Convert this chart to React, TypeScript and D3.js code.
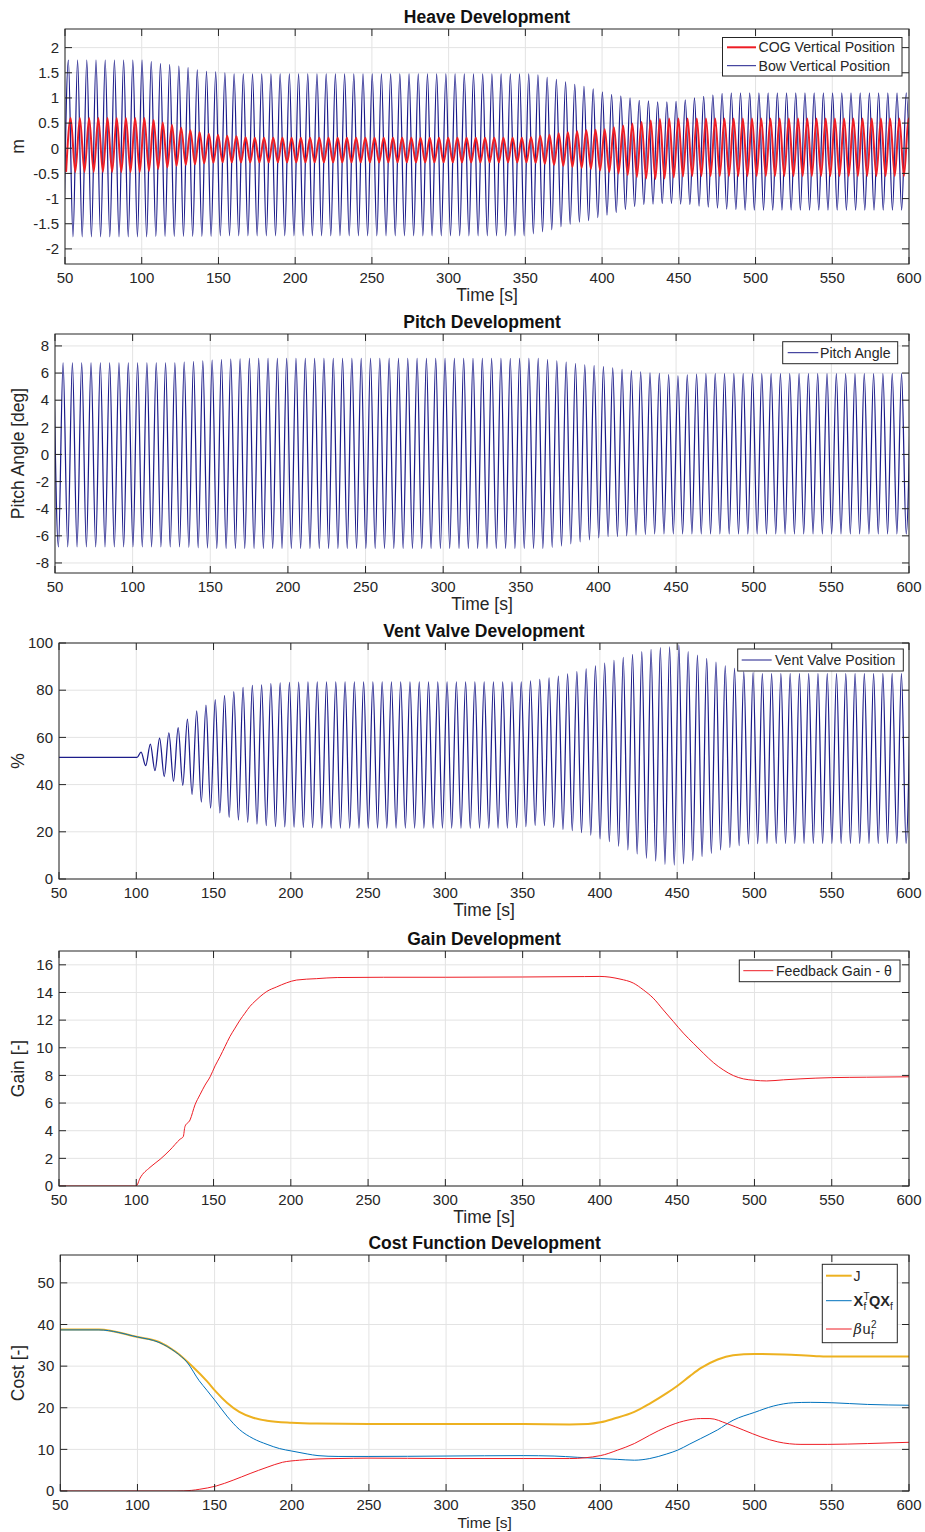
import React from 'react';
import * as d3 from 'd3';

// ---------- shared axis values ----------
const TIME_TICKS = [50, 100, 150, 200, 250, 300, 350, 400, 450, 500, 550, 600];
const HEAVE_TICKS = [-2, -1.5, -1, -0.5, 0, 0.5, 1, 1.5, 2];
const PITCH_TICKS = [-8, -6, -4, -2, 0, 2, 4, 6, 8];
const VENT_TICKS = [0, 20, 40, 60, 80, 100];
const GAIN_TICKS = [0, 2, 4, 6, 8, 10, 12, 14, 16];
const COST_TICKS = [0, 10, 20, 30, 40, 50];

// Oscillation: one cycle every 6 s, extrema every half cycle.
const HALF_PERIOD = 3;

// ---------- heave: bow vertical position (m), extrema per cycle ----------
const BOW_FIRST_TROUGH_T = 49.2;
const BOW_TROUGHS = [
  -1.76, -1.76, -1.76, -1.76, -1.76, -1.76, -1.76, -1.76, -1.76, -1.76,
  -1.75, -1.75, -1.75, -1.75, -1.75, -1.75, -1.75, -1.74, -1.74, -1.74,
  -1.74, -1.74, -1.74, -1.74, -1.74, -1.74, -1.74, -1.74, -1.74, -1.74,
  -1.74, -1.74, -1.74, -1.74, -1.74, -1.74, -1.74, -1.74, -1.74, -1.74,
  -1.74, -1.74, -1.74, -1.74, -1.74, -1.74, -1.74, -1.74, -1.74, -1.74,
  -1.74, -1.7, -1.66, -1.62, -1.56, -1.51, -1.47, -1.44, -1.38, -1.33,
  -1.28, -1.22, -1.16, -1.12, -1.11, -1.1, -1.1, -1.11, -1.12, -1.15,
  -1.17, -1.19, -1.21, -1.22, -1.23, -1.23, -1.23, -1.23, -1.23, -1.23,
  -1.23, -1.23, -1.23, -1.23, -1.23, -1.23, -1.23, -1.23, -1.23, -1.23,
  -1.23, -1.23, -1.23,
];
const BOW_PEAKS = [
  1.75, 1.75, 1.75, 1.75, 1.75, 1.75, 1.75, 1.75, 1.75, 1.72,
  1.68, 1.66, 1.63, 1.6, 1.56, 1.53, 1.52, 1.5, 1.48, 1.48,
  1.48, 1.48, 1.48, 1.48, 1.48, 1.48, 1.48, 1.48, 1.48, 1.48,
  1.48, 1.48, 1.48, 1.48, 1.48, 1.48, 1.48, 1.48, 1.48, 1.48,
  1.48, 1.48, 1.48, 1.48, 1.48, 1.48, 1.48, 1.48, 1.48, 1.48,
  1.48, 1.46, 1.41, 1.37, 1.32, 1.27, 1.23, 1.18, 1.12, 1.07,
  1.04, 1.0, 0.95, 0.94, 0.92, 0.92, 0.93, 0.96, 1.0, 1.03,
  1.06, 1.09, 1.1, 1.1, 1.1, 1.1, 1.1, 1.1, 1.1, 1.1,
  1.1, 1.1, 1.1, 1.1, 1.1, 1.1, 1.1, 1.1, 1.1, 1.1,
  1.1, 1.1,
];

// ---------- heave: COG vertical position (m) ----------
const COG_FIRST_TROUGH_T = 50.7;
const COG_TROUGHS = [
  -0.47, -0.47, -0.47, -0.47, -0.47, -0.47, -0.47, -0.47, -0.47, -0.45,
  -0.41, -0.38, -0.35, -0.33, -0.32, -0.3, -0.29, -0.28, -0.28, -0.28,
  -0.28, -0.28, -0.28, -0.28, -0.28, -0.28, -0.28, -0.28, -0.28, -0.28,
  -0.28, -0.28, -0.28, -0.28, -0.28, -0.28, -0.28, -0.28, -0.28, -0.28,
  -0.28, -0.28, -0.28, -0.28, -0.28, -0.28, -0.28, -0.28, -0.28, -0.28,
  -0.28, -0.29, -0.31, -0.33, -0.35, -0.37, -0.39, -0.41, -0.44, -0.47,
  -0.5, -0.53, -0.57, -0.6, -0.61, -0.6, -0.58, -0.56, -0.55, -0.55,
  -0.55, -0.55, -0.55, -0.55, -0.55, -0.55, -0.55, -0.55, -0.55, -0.55,
  -0.55, -0.55, -0.55, -0.55, -0.55, -0.55, -0.55, -0.55, -0.55, -0.55,
  -0.55, -0.55, -0.55,
];
const COG_PEAKS = [
  0.6, 0.6, 0.6, 0.6, 0.6, 0.6, 0.6, 0.6, 0.6, 0.56,
  0.51, 0.46, 0.41, 0.36, 0.32, 0.29, 0.27, 0.25, 0.24, 0.22,
  0.21, 0.21, 0.21, 0.21, 0.21, 0.21, 0.21, 0.21, 0.21, 0.21,
  0.21, 0.21, 0.21, 0.21, 0.21, 0.21, 0.21, 0.21, 0.21, 0.21,
  0.21, 0.21, 0.21, 0.21, 0.21, 0.21, 0.21, 0.21, 0.21, 0.21,
  0.22, 0.25, 0.27, 0.3, 0.32, 0.34, 0.36, 0.37, 0.38, 0.42,
  0.45, 0.49, 0.52, 0.55, 0.58, 0.59, 0.59, 0.59, 0.59, 0.59,
  0.59, 0.59, 0.59, 0.59, 0.59, 0.59, 0.59, 0.59, 0.59, 0.59,
  0.59, 0.59, 0.59, 0.59, 0.59, 0.59, 0.59, 0.59, 0.59, 0.59,
  0.59, 0.59,
];

// ---------- pitch angle (deg) ----------
const PITCH_FIRST_PEAK_T = 49.2;
const PITCH_PEAKS = [
  6.75, 6.75, 6.75, 6.75, 6.75, 6.75, 6.75, 6.75, 6.75, 6.75,
  6.75, 6.75, 6.75, 6.75, 6.8, 6.85, 6.9, 6.95, 7.0, 7.03,
  7.05, 7.08, 7.08, 7.08, 7.08, 7.08, 7.08, 7.08, 7.08, 7.08,
  7.08, 7.08, 7.08, 7.08, 7.08, 7.08, 7.08, 7.08, 7.08, 7.08,
  7.08, 7.08, 7.08, 7.08, 7.08, 7.08, 7.08, 7.08, 7.08, 7.08,
  7.08, 7.08, 7.08, 7.0, 6.9, 6.8, 6.7, 6.6, 6.55, 6.47,
  6.38, 6.28, 6.18, 6.08, 6.01, 5.98, 5.89, 5.8, 5.86, 5.93,
  5.96, 5.96, 5.96, 5.96, 5.96, 5.96, 5.96, 5.96, 5.96, 5.96,
  5.96, 5.96, 5.96, 5.96, 5.96, 5.96, 5.96, 5.96, 5.96, 5.96,
  5.96, 5.96, 5.96,
];
const PITCH_TROUGHS = [
  -6.82, -6.82, -6.82, -6.82, -6.82, -6.82, -6.82, -6.82, -6.82, -6.82,
  -6.82, -6.82, -6.82, -6.82, -6.85, -6.88, -6.9, -6.93, -6.93, -6.93,
  -6.93, -6.93, -6.93, -6.93, -6.93, -6.93, -6.93, -6.93, -6.93, -6.93,
  -6.93, -6.93, -6.93, -6.93, -6.93, -6.93, -6.93, -6.93, -6.93, -6.93,
  -6.93, -6.93, -6.93, -6.93, -6.93, -6.93, -6.93, -6.93, -6.93, -6.93,
  -6.93, -6.93, -6.93, -6.85, -6.75, -6.6, -6.45, -6.3, -6.15, -6.05,
  -6.06, -6.0, -5.95, -5.9, -5.86, -5.86, -5.86, -5.86, -5.86, -5.86,
  -5.86, -5.86, -5.86, -5.86, -5.86, -5.86, -5.86, -5.86, -5.86, -5.86,
  -5.86, -5.86, -5.86, -5.86, -5.86, -5.86, -5.86, -5.86, -5.86, -5.86,
  -5.86, -5.86,
];

// ---------- vent valve position (%) ----------
const VENT_IDLE: [number, number][] = [[50, 51.5], [100.5, 51.5]];
const VENT_FIRST_PEAK_T = 103.1;
const VENT_PEAKS = [
  53.8, 57.2, 59.7, 61.9, 64.1, 67.7, 71.2, 73.7, 76.0, 77.8,
  79.4, 81.2, 82.0, 82.3, 82.8, 83.1, 83.3, 83.4, 83.5, 83.5,
  83.5, 83.5, 83.5, 83.5, 83.5, 83.5, 83.5, 83.5, 83.5, 83.5,
  83.5, 83.5, 83.5, 83.5, 83.5, 83.5, 83.5, 83.5, 83.5, 83.5,
  83.5, 83.5, 84.0, 84.6, 85.2, 86.0, 86.9, 87.9, 89.0, 90.3,
  91.5, 92.6, 93.9, 95.2, 96.3, 97.3, 98.0, 98.4, 99.2, 96.3,
  94.9, 93.5, 91.9, 90.3, 89.3, 87.8, 87.4, 87.0, 87.0, 87.0,
  87.0, 87.0, 87.0, 87.0, 87.0, 87.0, 87.0, 87.0, 87.0, 87.0,
  87.0, 87.0, 87.0, 87.0,
];
const VENT_TROUGHS = [
  48.0, 45.9, 43.4, 41.4, 39.7, 35.9, 32.6, 30.0, 28.0, 26.1,
  25.0, 24.0, 23.3, 22.6, 22.2, 22.1, 22.0, 21.9, 21.8, 21.6,
  21.6, 21.6, 21.6, 21.6, 21.6, 21.6, 21.6, 21.6, 21.6, 21.6,
  21.6, 21.6, 21.6, 21.6, 21.6, 21.6, 21.6, 21.6, 21.6, 21.6,
  21.8, 22.2, 22.7, 22.6, 21.9, 21.0, 20.5, 19.6, 18.6, 17.0,
  15.8, 13.9, 12.3, 10.6, 8.8, 7.6, 6.2, 5.9, 6.4, 7.8,
  9.5, 10.9, 12.3, 13.4, 14.1, 14.8, 15.0, 15.1, 15.1, 15.1,
  15.1, 15.1, 15.1, 15.1, 15.1, 15.1, 15.1, 15.1, 15.1, 15.1,
  15.1, 15.1, 15.1,
];

// ---------- feedback gain (time s, gain) ----------
const GAIN: [number, number][] = [
  [50, 0], [100, 0], [102.4, 0.56], [108.9, 1.35], [115.4, 1.93], [121.8, 2.6],
  [128.3, 3.38], [130.4, 3.57], [131.5, 4.3], [134.8, 4.78], [138, 5.87], [141.2, 6.6],
  [144.5, 7.3], [147.8, 7.9], [151, 8.69], [154.2, 9.36], [157.4, 10.09], [160.6, 10.81],
  [163.9, 11.42], [167.1, 12.0], [170.3, 12.5], [173.6, 13.0], [176.8, 13.36], [180.1, 13.7],
  [184.4, 14.07], [190.8, 14.4], [197.3, 14.7], [203.8, 14.9], [216.7, 15.0], [230, 15.08],
  [260, 15.1], [300, 15.1], [350, 15.12], [390, 15.15], [400, 15.16], [413, 14.97],
  [421.6, 14.68], [428.1, 14.19], [434.5, 13.59], [441, 12.74], [447.5, 11.9], [454, 11.06],
  [460.4, 10.33], [466.9, 9.61], [473.4, 8.93], [479.8, 8.4], [486.3, 7.99], [492.8, 7.75],
  [499.9, 7.65], [507.9, 7.6], [518.7, 7.68], [529.5, 7.75], [550, 7.84], [572.6, 7.87],
  [600, 7.9],
];

// ---------- cost function terms (time s, cost) ----------
const COST_J: [number, number][] = [
  [50, 38.8], [75, 38.8], [100, 37.0], [114, 35.8], [125, 33.4], [136, 29.8],
  [145, 26.4], [151, 23.8], [158, 21.2], [166, 19.0], [175, 17.6], [184, 16.9],
  [200, 16.4], [216, 16.2], [250, 16.1], [300, 16.1], [350, 16.1], [380, 16.0],
  [392, 16.1], [400, 16.5], [409, 17.4], [422, 19.0], [432, 21.0], [443, 23.5],
  [450, 25.3], [458, 27.6], [465, 29.5], [476, 31.6], [486, 32.6], [500, 32.9],
  [519, 32.8], [540, 32.4], [550, 32.3], [600, 32.3],
];
const COST_XQX: [number, number][] = [
  [50, 38.7], [75, 38.7], [100, 37.0], [114, 35.7], [125, 33.3], [132, 31.0],
  [140, 26.5], [145, 24.2], [151, 21.4], [158, 18.0], [166, 14.8], [175, 12.6],
  [184, 11.2], [192, 10.2], [200, 9.6], [210, 8.9], [217, 8.5], [230, 8.3],
  [250, 8.3], [300, 8.4], [350, 8.5], [370, 8.4], [385, 8.1], [400, 7.8],
  [411, 7.6], [422, 7.4], [432, 7.8], [443, 8.9], [450, 9.8], [458, 11.3],
  [465, 12.6], [476, 14.7], [486, 17.0], [500, 18.9], [512, 20.4], [525, 21.2],
  [536, 21.3], [550, 21.2], [573, 20.8], [600, 20.6],
];
const COST_U: [number, number][] = [
  [50, 0], [125, 0], [135, 0.15], [140, 0.4], [151, 1.2], [162, 2.6],
  [173, 4.2], [184, 5.7], [194, 6.9], [205, 7.4], [217, 7.7], [230, 7.8],
  [250, 7.9], [300, 7.8], [350, 7.8], [380, 7.8], [400, 8.5], [411, 9.8],
  [422, 11.4], [432, 13.4], [443, 15.4], [454, 16.8], [465, 17.4], [471, 17.4],
  [482, 16.2], [493, 14.6], [504, 13.0], [515, 11.8], [530, 11.2], [547, 11.2],
  [573, 11.4], [600, 11.7],
];

// ---------- styling ----------
const FONT = "'Liberation Sans', Arial, Helvetica, sans-serif";
const AXIS = '#262626';
const GRID = '#e3e3e3';
const NAVY = '#1c1c8a';
const RED = '#ee1d25';
const ORANGE = '#edb120';
const BLUE = '#0072bd';
const TICK_FONT = 15;
const LABEL_FONT = 17.5;
const TITLE_FONT = 17.5;
const LEGEND_FONT = 14.1;

type Pt = [number, number];

// Interleave two extrema lists into a time series, alternating every half cycle.
function alternate(t0: number, first: number[], second: number[]): Pt[] {
  const pts: Pt[] = [];
  const n = Math.max(first.length, second.length);
  for (let i = 0; i < n; i++) {
    if (i < first.length) pts.push([t0 + 2 * i * HALF_PERIOD, first[i]]);
    if (i < second.length) pts.push([t0 + (2 * i + 1) * HALF_PERIOD, second[i]]);
  }
  return pts;
}

interface Series { points: Pt[]; color: string; width: number }
interface LegendItem { label: React.ReactNode; color: string; width: number; y: number }
interface PanelCfg {
  id: string;
  left: number; right: number; top: number; bottom: number;
  yDomain: [number, number];
  yTicks: number[];
  title: string;
  xlabel: string;
  xlabelSize: number;
  ylabel: string;
  series: Series[];
  legend: { x: number; y: number; w: number; h: number; lineX0: number; lineX1: number; textX: number; items: LegendItem[] };
}

function Panel({ cfg }: { cfg: PanelCfg }) {
  const x = d3.scaleLinear().domain([50, 600]).range([cfg.left, cfg.right]);
  const y = d3.scaleLinear().domain(cfg.yDomain).range([cfg.bottom, cfg.top]);
  const line = d3
    .line<Pt>()
    .x((d) => x(d[0]))
    .y((d) => y(d[1]))
    .curve(d3.curveMonotoneX);
  const tick = 7;
  const midX = (cfg.left + cfg.right) / 2;
  const midY = (cfg.top + cfg.bottom) / 2;
  const lg = cfg.legend;
  return (
    <g>
      <defs>
        <clipPath id={`clip-${cfg.id}`}>
          <rect x={cfg.left} y={cfg.top} width={cfg.right - cfg.left} height={cfg.bottom - cfg.top} />
        </clipPath>
      </defs>
      <rect x={cfg.left} y={cfg.top} width={cfg.right - cfg.left} height={cfg.bottom - cfg.top} fill="#fff" />
      {/* grid */}
      {TIME_TICKS.map((t) => (
        <line key={`gx${t}`} x1={x(t)} x2={x(t)} y1={cfg.top} y2={cfg.bottom} stroke={GRID} strokeWidth={1} />
      ))}
      {cfg.yTicks.map((v) => (
        <line key={`gy${v}`} x1={cfg.left} x2={cfg.right} y1={y(v)} y2={y(v)} stroke={GRID} strokeWidth={1} />
      ))}
      {/* data */}
      <g clipPath={`url(#clip-${cfg.id})`}>
        {cfg.series.map((s, i) => (
          <path key={i} d={line(s.points) || ''} fill="none" stroke={s.color} strokeWidth={s.width} strokeLinejoin="round" />
        ))}
      </g>
      {/* frame and ticks */}
      <rect x={cfg.left} y={cfg.top} width={cfg.right - cfg.left} height={cfg.bottom - cfg.top} fill="none" stroke={AXIS} strokeWidth={1} />
      {TIME_TICKS.map((t) => (
        <g key={`tx${t}`}>
          <line x1={x(t)} x2={x(t)} y1={cfg.bottom} y2={cfg.bottom - tick} stroke={AXIS} />
          <line x1={x(t)} x2={x(t)} y1={cfg.top} y2={cfg.top + tick} stroke={AXIS} />
          <text x={x(t)} y={cfg.bottom + 18.5} textAnchor="middle" fontSize={TICK_FONT} fill={AXIS} fontFamily={FONT}>
            {t}
          </text>
        </g>
      ))}
      {cfg.yTicks.map((v) => (
        <g key={`ty${v}`}>
          <line x1={cfg.left} x2={cfg.left + tick} y1={y(v)} y2={y(v)} stroke={AXIS} />
          <line x1={cfg.right} x2={cfg.right - tick} y1={y(v)} y2={y(v)} stroke={AXIS} />
          <text x={cfg.left - 6} y={y(v)} dy="0.35em" textAnchor="end" fontSize={TICK_FONT} fill={AXIS} fontFamily={FONT}>
            {String(v)}
          </text>
        </g>
      ))}
      {/* labels */}
      <text x={midX} y={cfg.top - 6} textAnchor="middle" fontSize={TITLE_FONT} fontWeight="bold" fill="#111" fontFamily={FONT}>
        {cfg.title}
      </text>
      <text x={midX} y={cfg.bottom + 37} textAnchor="middle" fontSize={cfg.xlabelSize} fill={AXIS} fontFamily={FONT}>
        {cfg.xlabel}
      </text>
      <text
        transform={`translate(24,${midY}) rotate(-90)`}
        textAnchor="middle"
        fontSize={LABEL_FONT}
        fill={AXIS}
        fontFamily={FONT}
      >
        {cfg.ylabel}
      </text>
      {/* legend */}
      <rect x={lg.x} y={lg.y} width={lg.w} height={lg.h} fill="#fff" stroke={AXIS} strokeWidth={1} />
      {lg.items.map((it, i) => (
        <g key={i}>
          <line x1={lg.lineX0} x2={lg.lineX1} y1={it.y} y2={it.y} stroke={it.color} strokeWidth={it.width} />
          {typeof it.label === 'string' ? (
            <text x={lg.textX} y={it.y} dy="0.35em" fontSize={LEGEND_FONT} fill={AXIS} fontFamily={FONT}>
              {it.label}
            </text>
          ) : (
            it.label
          )}
        </g>
      ))}
    </g>
  );
}

export default function App() {
  const bow = alternate(BOW_FIRST_TROUGH_T, BOW_TROUGHS, BOW_PEAKS);
  const cog = alternate(COG_FIRST_TROUGH_T, COG_TROUGHS, COG_PEAKS);
  const pitch = alternate(PITCH_FIRST_PEAK_T, PITCH_PEAKS, PITCH_TROUGHS);
  const vent: Pt[] = [...VENT_IDLE, ...alternate(VENT_FIRST_PEAK_T, VENT_PEAKS, VENT_TROUGHS)];

  const costTextX = 853.5;
  const xqxY = 1300.7;
  const uY = 1329;

  const panels: PanelCfg[] = [
    {
      id: 'heave', left: 65, right: 909, top: 29, bottom: 264,
      yDomain: [-2.3, 2.37], yTicks: HEAVE_TICKS,
      title: 'Heave Development', xlabel: 'Time [s]', xlabelSize: LABEL_FONT, ylabel: 'm',
      series: [
        { points: bow, color: NAVY, width: 1.25 },
        { points: cog, color: RED, width: 2 },
      ],
      legend: {
        x: 722.5, y: 37.5, w: 179.5, h: 38.5, lineX0: 727, lineX1: 756, textX: 758.5,
        items: [
          { label: 'COG Vertical Position', color: RED, width: 2, y: 47.3 },
          { label: 'Bow Vertical Position', color: NAVY, width: 1, y: 65.7 },
        ],
      },
    },
    {
      id: 'pitch', left: 55, right: 909, top: 334, bottom: 573,
      yDomain: [-8.74, 8.88], yTicks: PITCH_TICKS,
      title: 'Pitch Development', xlabel: 'Time [s]', xlabelSize: LABEL_FONT, ylabel: 'Pitch Angle [deg]',
      series: [{ points: pitch, color: NAVY, width: 1.25 }],
      legend: {
        x: 782.7, y: 341.7, w: 115, h: 22, lineX0: 787.7, lineX1: 818.3, textX: 820,
        items: [{ label: 'Pitch Angle', color: NAVY, width: 1, y: 352.7 }],
      },
    },
    {
      id: 'vent', left: 59, right: 909, top: 643, bottom: 879,
      yDomain: [0, 100], yTicks: VENT_TICKS,
      title: 'Vent Valve Development', xlabel: 'Time [s]', xlabelSize: LABEL_FONT, ylabel: '%',
      series: [{ points: vent, color: NAVY, width: 1.25 }],
      legend: {
        x: 737.7, y: 649, w: 165.6, h: 22, lineX0: 741.7, lineX1: 771.7, textX: 775,
        items: [{ label: 'Vent Valve Position', color: NAVY, width: 1, y: 660 }],
      },
    },
    {
      id: 'gain', left: 59, right: 909, top: 951, bottom: 1186,
      yDomain: [0, 17], yTicks: GAIN_TICKS,
      title: 'Gain Development', xlabel: 'Time [s]', xlabelSize: LABEL_FONT, ylabel: 'Gain [-]',
      series: [{ points: GAIN, color: RED, width: 1 }],
      legend: {
        x: 739.3, y: 960, w: 160.7, h: 21.7, lineX0: 743.3, lineX1: 773.3, textX: 776,
        items: [{ label: 'Feedback Gain - θ', color: RED, width: 1, y: 970.7 }],
      },
    },
    {
      id: 'cost', left: 60.3, right: 909, top: 1255, bottom: 1491,
      yDomain: [0, 56.7], yTicks: COST_TICKS,
      title: 'Cost Function Development', xlabel: 'Time [s]', xlabelSize: 15.5, ylabel: 'Cost [-]',
      series: [
        { points: COST_J, color: ORANGE, width: 2 },
        { points: COST_XQX, color: BLUE, width: 1 },
        { points: COST_U, color: RED, width: 1 },
      ],
      legend: {
        x: 822.3, y: 1264.3, w: 75, h: 78.4, lineX0: 826, lineX1: 851.7, textX: costTextX,
        items: [
          { label: 'J', color: ORANGE, width: 2, y: 1275.7 },
          {
            label: (
              <g fontFamily={FONT} fill={AXIS}>
                <text x={costTextX} y={xqxY + 5} fontSize={14.5} fontWeight="bold">X</text>
                <text x={costTextX + 10} y={xqxY - 1} fontSize={10}>T</text>
                <text x={costTextX + 10} y={xqxY + 9.5} fontSize={10}>f</text>
                <text x={costTextX + 15.5} y={xqxY + 5} fontSize={14.5} fontWeight="bold">QX</text>
                <text x={costTextX + 36.5} y={xqxY + 9.5} fontSize={10}>f</text>
              </g>
            ),
            color: BLUE, width: 1, y: xqxY,
          },
          {
            label: (
              <g fontFamily={FONT} fill={AXIS}>
                <text x={costTextX} y={uY + 5} fontSize={14.5} fontStyle="italic" fontFamily="'DejaVu Serif', serif">β</text>
                <text x={costTextX + 9} y={uY + 5} fontSize={14.5}>u</text>
                <text x={costTextX + 17.5} y={uY - 1} fontSize={10}>2</text>
                <text x={costTextX + 17.5} y={uY + 9.5} fontSize={10}>f</text>
              </g>
            ),
            color: RED, width: 1, y: uY,
          },
        ],
      },
    },
  ];

  return (
    <svg
      width={925}
      height={1532}
      viewBox="0 0 925 1532"
      style={{ position: 'absolute', left: 0, top: 0, background: '#fff' }}
    >
      <rect x={0} y={0} width={925} height={1532} fill="#fff" />
      {panels.map((p) => (
        <Panel key={p.id} cfg={p} />
      ))}
    </svg>
  );
}
